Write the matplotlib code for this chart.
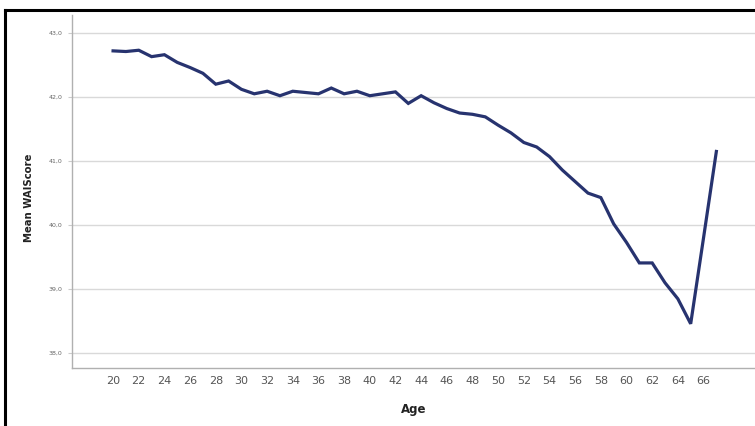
"""
Mean WAI score by age, drawn as a single line over a light grid.
"""

import matplotlib.pyplot as plt
from matplotlib.lines import Line2D
import numpy as np

# Age groups and the mean score for each
ages = list(range(20, 68))
mean_score = [42.72, 42.71, 42.73, 42.63, 42.66, 42.54, 42.46, 42.37, 42.20, 42.25,
              42.12, 42.05, 42.09, 42.02, 42.09, 42.07, 42.05, 42.14, 42.05, 42.09,
              42.02, 42.05, 42.08, 41.90, 42.02, 41.91, 41.82, 41.75, 41.73, 41.69,
              41.56, 41.44, 41.29, 41.22, 41.07, 40.86, 40.68, 40.50, 40.43, 40.02,
              39.73, 39.41, 39.41, 39.10, 38.85, 38.46, 39.80, 41.15]

x_ticks = list(range(20, 67, 2))
y_ticks = [38, 39, 40, 41, 42, 43]
y_tick_labels = ["38,0", "39,0", "40,0", "41,0", "42,0", "43,0"]

W, H = 755, 426
fig = plt.figure(figsize=(W / 100, H / 100), dpi=100)

# axes box in pixel terms: left 72, top 15, bottom 368, runs off the right edge
left, top, bottom, right = 72, 15, 368, 760
ax = fig.add_axes([left / W, 1 - bottom / H, (right - left) / W, (bottom - top) / H])

ax.plot(ages, mean_score, color="#27336f", linewidth=2.3, solid_joinstyle="miter")

ax.set_xlim(16.8, 70.4)
ax.set_ylim(37.77, 43.28)

ax.set_xticks(x_ticks)
ax.set_xticklabels([str(a) for a in x_ticks], fontsize=8, color="#555555")
ax.set_yticks(y_ticks)
ax.set_yticklabels(y_tick_labels, fontsize=4.5, color="#666666")
ax.tick_params(axis="x", length=0, pad=6)
ax.tick_params(axis="y", length=3, color="#cccccc", pad=4)

ax.grid(axis="y", color="#d9d9d9", linewidth=1.0)
ax.set_axisbelow(True)
for side in ("top", "right"):
    ax.spines[side].set_visible(False)
for side in ("left", "bottom"):
    ax.spines[side].set_color("#b0b0b0")
    ax.spines[side].set_linewidth(1.0)

fig.text(414 / W, 1 - 409 / H, "Age", ha="center", va="center",
         fontsize=8.5, fontweight="bold", color="#222222")
fig.text(29 / W, 1 - 198 / H, "Mean WAIScore", ha="center", va="center",
         rotation=90, fontsize=7.3, fontweight="bold", color="#222222")

# black frame along the top and left edge
fig.add_artist(Line2D([5 / W, 5 / W], [0, 1 - 10 / H], transform=fig.transFigure,
                      color="black", linewidth=2.2))
fig.add_artist(Line2D([5 / W, 1], [1 - 10 / H, 1 - 10 / H], transform=fig.transFigure,
                      color="black", linewidth=2.2))

fig.savefig("out.png", dpi=100)
